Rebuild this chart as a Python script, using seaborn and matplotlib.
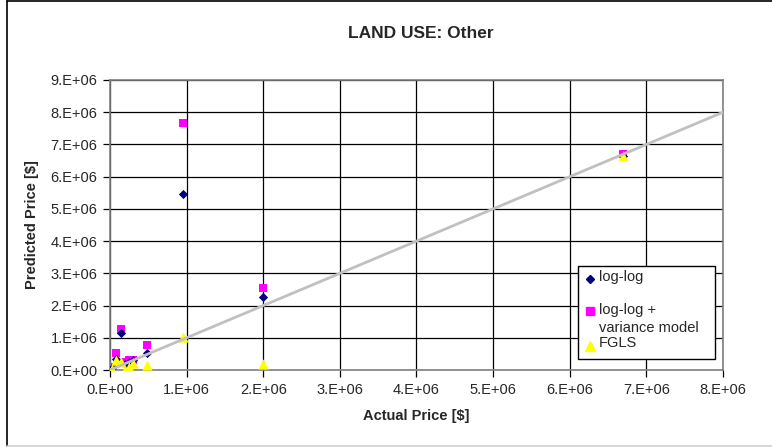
import pandas as pd
import seaborn as sns
import matplotlib.pyplot as plt
from matplotlib.lines import Line2D
from matplotlib.patches import Rectangle
from matplotlib.ticker import FuncFormatter, MultipleLocator

# Values (millions of dollars)
actual = [0.03, 0.08, 0.15, 0.20, 0.25, 0.30, 0.48, 0.95, 2.00, 6.70]
loglog = [0.05, 0.35, 1.15, 0.20, 0.25, 0.30, 0.53, 5.45, 2.26, 6.65]
loglog_var = [0.08, 0.52, 1.27, 0.25, 0.30, 0.32, 0.78, 7.68, 2.54, 6.70]
fgls = [0.02, 0.30, 0.26, 0.00, 0.10, 0.22, 0.16, 1.02, 0.20, 6.63]
ref_line = [0.0, 8.0]

series_names = ['log-log', 'log-log +\nvariance model', 'FGLS']
series_colors = ['#000080', '#FF00FF', '#FFFF00']
series_markers = ['D', 's', '^']

df = pd.DataFrame({
    'actual': [v * 1e6 for v in actual],
    'loglog': [v * 1e6 for v in loglog],
    'loglog_var': [v * 1e6 for v in loglog_var],
    'fgls': [v * 1e6 for v in fgls],
})
line_df = pd.DataFrame({'x': [v * 1e6 for v in ref_line], 'y': [v * 1e6 for v in ref_line]})

sns.set_style("white")
plt.rcParams['font.family'] = ['Liberation Sans', 'DejaVu Sans']
FS = 10.5

fig = plt.figure(figsize=(7.72, 4.47), dpi=100)
ax = fig.add_axes([110 / 772, 1 - 370 / 447, 613 / 772, 290 / 447])

sns.scatterplot(data=df, x='actual', y='loglog', ax=ax, marker='D', s=22,
                color=series_colors[0], edgecolor=series_colors[0], linewidth=0, zorder=3)
sns.scatterplot(data=df, x='actual', y='loglog_var', ax=ax, marker='s', s=38,
                color=series_colors[1], edgecolor=series_colors[1], linewidth=0, zorder=2)
sns.scatterplot(data=df, x='actual', y='fgls', ax=ax, marker='^', s=55,
                color=series_colors[2], edgecolor=series_colors[2], linewidth=0, zorder=4)
sns.lineplot(data=line_df, x='x', y='y', ax=ax, color='#C0C0C0', linewidth=2, zorder=5)

ax.set_xlim(0, 8e6)
ax.set_ylim(0, 9e6)
ax.xaxis.set_major_locator(MultipleLocator(1e6))
ax.yaxis.set_major_locator(MultipleLocator(1e6))
fmt = FuncFormatter(lambda v, p: '%d.E+06' % round(v / 1e6) if v else '0.E+00')
ax.xaxis.set_major_formatter(fmt)
ax.yaxis.set_major_formatter(fmt)

ax.grid(True, color='black', linewidth=0.9)
ax.set_axisbelow(True)
for s in ax.spines.values():
    s.set_color('#808080')
    s.set_linewidth(1.2)
ax.tick_params(axis='both', direction='out', length=5, width=0.9, color='black',
               labelsize=FS, pad=4, left=True, bottom=True)

ax.set_xlabel('Actual Price [$]', fontsize=FS, fontweight='bold', labelpad=9)
ax.set_ylabel('Predicted Price [$]', fontsize=FS, fontweight='bold', labelpad=8)
fig.text(0.5 * (110 + 723) / 772 + 0.005, 1 - 33 / 447, 'LAND USE: Other',
         ha='center', va='center', fontsize=12.5, fontweight='bold')

# legend box, laid out the way the spreadsheet draws it
ax.add_patch(Rectangle((0.7635, 0.038), 0.2235, 0.3206, transform=ax.transAxes,
                       facecolor='white', edgecolor='black', linewidth=1.0, zorder=10))
marker_y = [0.315, 0.203, 0.083]
marker_sz = [4.5, 6, 7.5]
for i in range(3):
    ax.add_line(Line2D([0.783], [marker_y[i]], transform=ax.transAxes, linestyle='none',
                       marker=series_markers[i], markersize=marker_sz[i],
                       color=series_colors[i], zorder=11))
text_lines = [(series_names[0], 0.32), (series_names[1].split('\n')[0], 0.207),
              (series_names[1].split('\n')[1], 0.146), (series_names[2], 0.093)]
for txt, ty in text_lines:
    ax.text(0.797, ty, txt, transform=ax.transAxes, fontsize=FS, va='center',
            ha='left', zorder=11)

# chart area border
fig.add_artist(Line2D([7 / 772, 7 / 772], [1 / 447, 1 - 1 / 447], color='black', linewidth=1.2))
fig.add_artist(Line2D([7 / 772, 1], [1 - 1 / 447, 1 - 1 / 447], color='black', linewidth=1.2))
fig.add_artist(Line2D([7 / 772, 1], [1 / 447, 1 / 447], color='#D0D0D0', linewidth=1.2))

fig.savefig('out.png', dpi=100)
